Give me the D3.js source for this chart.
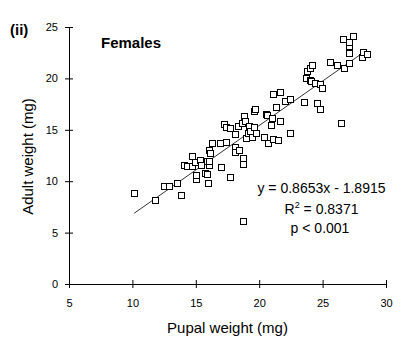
<!DOCTYPE html>
<html><head><meta charset="utf-8">
<script src="https://cdn.jsdelivr.net/npm/d3@7"></script>
<style>
html,body{margin:0;padding:0;background:#fff;}
svg{display:block;font-family:"Liberation Sans",Arial,sans-serif;}
</style></head>
<body>
<svg id="c" width="405" height="358"></svg>
<script>
const pupal = [10.15,11.81,12.47,12.92,13.49,13.86,14.04,14.28,14.67,14.73,14.95,14.99,15.05,15.31,15.38,15.69,15.85,15.94,15.92,16.08,16.08,16.07,16.09,16.25,16.95,16.94,17.20,17.36,17.36,17.73,17.72,18.07,18.13,18.13,18.35,18.42,18.67,18.69,18.74,18.69,18.78,18.85,18.99,19.12,19.20,19.30,19.46,19.56,19.56,19.67,19.77,20.35,20.56,20.64,20.66,20.90,20.98,21.11,21.11,21.35,21.45,21.67,21.67,22.07,22.40,22.39,23.56,23.74,23.72,23.98,23.98,24.13,24.05,24.42,24.59,24.83,24.83,24.99,25.55,26.17,26.48,26.65,26.64,27.10,27.08,27.10,27.08,27.43,28.14,28.22,28.51];
const adult = [8.90,8.13,9.57,9.57,9.85,8.70,11.62,11.44,12.48,11.51,11.90,10.17,10.58,12.07,11.61,10.84,11.98,9.86,10.74,11.55,11.95,13.04,12.79,13.75,11.34,13.68,15.60,13.83,15.30,10.45,15.20,14.56,13.33,12.84,15.40,13.08,15.63,11.70,12.30,6.08,16.34,15.89,14.24,14.66,15.40,14.85,14.34,15.30,16.83,16.99,14.72,14.34,16.54,16.44,13.75,15.42,16.18,18.48,14.14,17.25,14.05,18.69,15.89,17.82,17.99,14.72,17.73,20.74,20.06,19.84,21.05,21.33,19.70,19.58,17.64,17.04,19.48,19.08,21.62,21.32,15.70,21.04,23.83,23.19,23.55,22.49,21.52,24.14,22.10,22.61,22.41];
const xTicks = [5,10,15,20,25,30];
const yTicks = [0,5,10,15,20,25];
const slope = 0.8653, intercept = -1.8915;
const statLines = ["y = 0.8653x - 1.8915", "R2 = 0.8371", "p < 0.001"];
const panelLabel = "(ii)", groupLabel = "Females";
const xTitle = "Pupal weight (mg)", yTitle = "Adult weight (mg)";

const svg = d3.select("#c");
const x = d3.scaleLinear().domain([5,30]).range([69,386]);
const y = d3.scaleLinear().domain([0,25]).range([284,27]);

// axes
const gx = svg.append("g").attr("transform","translate(0,284)")
  .call(d3.axisBottom(x).tickValues(xTicks).tickSize(4).tickSizeOuter(0).tickPadding(11).tickFormat(d3.format("d")));
gx.selectAll(".tick line").attr("y1",-4);
const gy = svg.append("g").attr("transform","translate(69,0)")
  .call(d3.axisLeft(y).tickValues(yTicks).tickSize(4).tickSizeOuter(0).tickPadding(7).tickFormat(d3.format("d")));
gy.selectAll(".tick line").attr("x1",4);
svg.selectAll(".tick text").attr("font-size",11).attr("fill","#000").attr("font-family","Liberation Sans, Arial, sans-serif");
svg.selectAll(".domain, .tick line").attr("stroke","#000");

// regression line
const ext = d3.extent(pupal);
svg.append("path")
  .attr("d", d3.line()([[x(ext[0]), y(slope*ext[0]+intercept)], [x(ext[1]), y(slope*ext[1]+intercept)]]))
  .attr("stroke","#000").attr("stroke-width",0.8).attr("fill","none");

// points
const pts = pupal.map((p,i)=>[p,adult[i]]);
svg.append("g").selectAll("rect").data(pts).join("rect")
  .attr("x", d=>Math.round(x(d[0]))-3+0.5)
  .attr("y", d=>Math.round(y(d[1]))-3+0.5)
  .attr("width",6).attr("height",6)
  .attr("fill","#fff").attr("stroke","#000").attr("stroke-width",1);

// texts
svg.append("text").attr("x",10).attr("y",35).attr("font-size",15).attr("font-weight","bold").text(panelLabel);
svg.append("text").attr("x",101).attr("y",48).attr("font-size",15).attr("font-weight","bold").text(groupLabel);
svg.append("text").attr("x",227.5).attr("y",333).attr("font-size",15).attr("text-anchor","middle").text(xTitle);
svg.append("text").attr("transform","translate(33,156.5) rotate(-90)").attr("font-size",15).attr("text-anchor","middle").text(yTitle);

const st = svg.append("g").attr("font-size",14).attr("text-anchor","middle");
st.append("text").attr("x",321.5).attr("y",193).text(statLines[0]);
const r2 = st.append("text").attr("x",321.5).attr("y",214);
r2.append("tspan").text("R");
r2.append("tspan").attr("font-size",9).attr("dy",-6).text("2");
r2.append("tspan").attr("dy",6).text(" = 0.8371");
st.append("text").attr("x",320).attr("y",233).text(statLines[2]);
</script>
</body></html>
